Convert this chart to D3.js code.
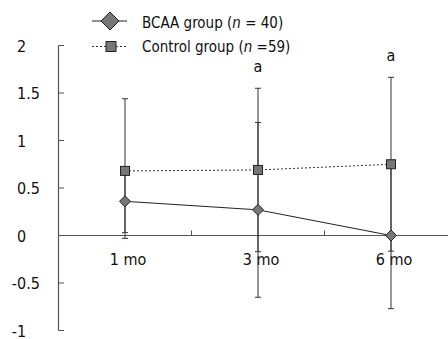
<!DOCTYPE html>
<html lang="en">
<head>
    <meta charset="UTF-8">
    <script src="https://d3js.org/d3.v7.min.js"></script>
    <style>
        body { margin: 0; background: #fff; }
        text { font-family: "DejaVu Sans Condensed", "DejaVu Sans", sans-serif; fill: #111; }
    </style>
</head>
<body>
    <script>
        // categories and tick labels
        const months = ["1 mo", "3 mo", "6 mo"];
        const yTicks = [-1, -0.5, 0, 0.5, 1, 1.5, 2];

        // BCAA group: mean with error bar ends
        const bcaa = [0.36, 0.27, 0.0];
        const bcaaLow = [0.03, -0.65, -0.77];
        const bcaaHigh = [0.69, 1.19, 0.77];

        // Control group: mean with error bar ends
        const control = [0.68, 0.69, 0.75];
        const controlLow = [-0.03, -0.17, -0.165];
        const controlHigh = [1.44, 1.55, 1.665];

        // significance marks
        const marks = ["", "a", "a"];

        const W = 448, H = 339;
        const svg = d3.select("body").append("svg")
            .attr("width", W)
            .attr("height", H);

        const x = d3.scaleBand().domain(months).range([58.5, 457.5]).padding(0);
        const y = d3.scaleLinear().domain([-1, 2]).range([330.5, 45.5]);
        const cx = m => x(m) + x.bandwidth() / 2;

        const axisColor = "#555";
        const fs = 16;

        // y axis line + inner ticks
        svg.append("line")
            .attr("x1", 58.5).attr("x2", 58.5)
            .attr("y1", y(2)).attr("y2", y(-1))
            .attr("stroke", axisColor).attr("stroke-width", 1.2);
        svg.selectAll(".ytick").data(yTicks).enter().append("line")
            .attr("x1", 58.5).attr("x2", 64)
            .attr("y1", d => y(d)).attr("y2", d => y(d))
            .attr("stroke", axisColor).attr("stroke-width", 1);

        // y tick labels, left aligned with minus hanging
        const minusW = (() => {
            const t = svg.append("text").attr("font-size", fs).text("-");
            const w = t.node().getComputedTextLength();
            t.remove();
            return w;
        })();
        svg.selectAll(".ylab").data(yTicks).enter().append("text")
            .attr("x", d => d < 0 ? 17 - minusW : 17)
            .attr("y", d => y(d) + 6)
            .attr("font-size", fs)
            .text(d => d < 0 ? "-" + Math.abs(d) : d);

        // x axis line at zero
        svg.append("line")
            .attr("x1", 58.5).attr("x2", W)
            .attr("y1", y(0)).attr("y2", y(0))
            .attr("stroke", axisColor).attr("stroke-width", 1.2);
        // minor ticks at band boundaries
        svg.selectAll(".xtick").data(months.slice(1)).enter().append("line")
            .attr("x1", d => x(d)).attr("x2", d => x(d))
            .attr("y1", y(0)).attr("y2", y(0) - 5)
            .attr("stroke", axisColor).attr("stroke-width", 1);
        svg.selectAll(".xlab").data(months).enter().append("text")
            .attr("x", d => cx(d) + 3)
            .attr("y", y(0) + 29)
            .attr("text-anchor", "middle")
            .attr("font-size", fs)
            .text(d => d);

        // error bars
        function errorBars(low, high) {
            months.forEach((m, i) => {
                const g = svg.append("g").attr("stroke", "#333").attr("stroke-width", 1);
                g.append("line").attr("x1", cx(m)).attr("x2", cx(m))
                    .attr("y1", y(low[i])).attr("y2", y(high[i]));
                [low[i], high[i]].forEach(v => {
                    g.append("line").attr("x1", cx(m) - 3).attr("x2", cx(m) + 3)
                        .attr("y1", y(v)).attr("y2", y(v));
                });
            });
        }
        errorBars(controlLow, controlHigh);
        errorBars(bcaaLow, bcaaHigh);

        const line = d3.line().x((d, i) => cx(months[i])).y(d => y(d));

        svg.append("path").datum(control)
            .attr("d", line)
            .attr("fill", "none").attr("stroke", "#333")
            .attr("stroke-width", 1).attr("stroke-dasharray", "2,2");
        svg.append("path").datum(bcaa)
            .attr("d", line)
            .attr("fill", "none").attr("stroke", "#222")
            .attr("stroke-width", 1);

        const diamond = r => `M0,${-r}L${r},0L0,${r}L${-r},0Z`;

        svg.selectAll(".sq").data(control).enter().append("rect")
            .attr("x", (d, i) => cx(months[i]) - 4.5)
            .attr("y", d => y(d) - 4.5)
            .attr("width", 9).attr("height", 9)
            .attr("fill", "#777").attr("stroke", "#222").attr("stroke-width", 1);
        svg.selectAll(".dm").data(bcaa).enter().append("path")
            .attr("d", diamond(5.5))
            .attr("transform", (d, i) => `translate(${cx(months[i])},${y(d)})`)
            .attr("fill", "#777").attr("stroke", "#222").attr("stroke-width", 1);

        // significance letters above control error bars
        svg.selectAll(".mk").data(marks).enter().append("text")
            .attr("x", (d, i) => cx(months[i]))
            .attr("y", (d, i) => y(controlHigh[i]) - 16)
            .attr("text-anchor", "middle")
            .attr("font-size", fs)
            .text(d => d);

        // legend
        const lg = svg.append("g");
        lg.append("line").attr("x1", 92).attr("x2", 127).attr("y1", 21).attr("y2", 21)
            .attr("stroke", "#222").attr("stroke-width", 1);
        lg.append("path").attr("d", diamond(9)).attr("transform", "translate(110,21)")
            .attr("fill", "#777").attr("stroke", "#222").attr("stroke-width", 1);
        lg.append("line").attr("x1", 92).attr("x2", 127).attr("y1", 46.5).attr("y2", 46.5)
            .attr("stroke", "#333").attr("stroke-width", 1).attr("stroke-dasharray", "2,2");
        lg.append("rect").attr("x", 106).attr("y", 41.5).attr("width", 10).attr("height", 10)
            .attr("fill", "#777").attr("stroke", "#222").attr("stroke-width", 1);

        const t1 = lg.append("text").attr("x", 142).attr("y", 28).attr("font-size", 15);
        t1.append("tspan").text("BCAA group (");
        t1.append("tspan").attr("font-style", "italic").text("n");
        t1.append("tspan").text(" = 40)");
        const t2 = lg.append("text").attr("x", 142).attr("y", 52).attr("font-size", 15);
        t2.append("tspan").text("Control group (");
        t2.append("tspan").attr("font-style", "italic").text("n");
        t2.append("tspan").text(" =59)");
    </script>
</body>
</html>
